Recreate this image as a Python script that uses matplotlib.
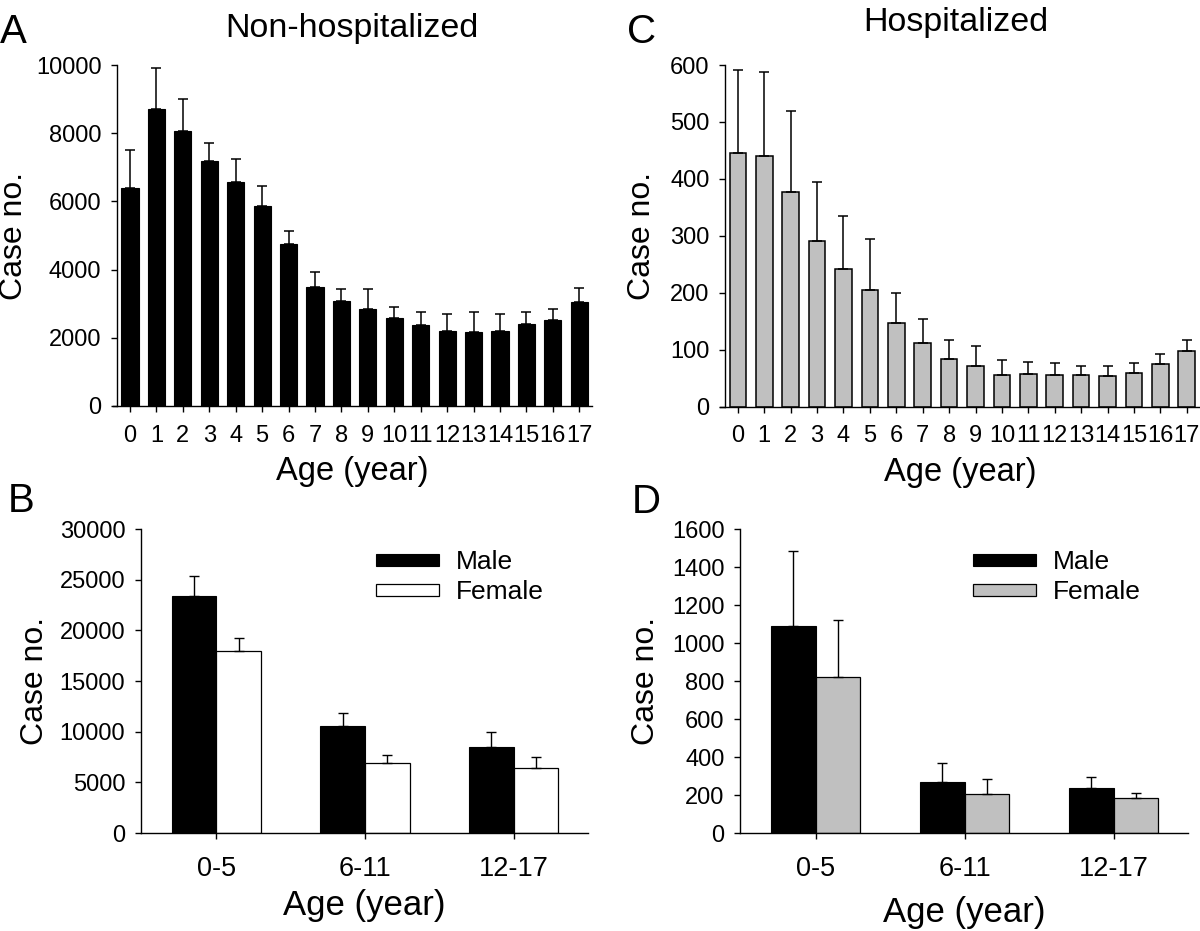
import matplotlib
matplotlib.use("Agg")
import matplotlib.pyplot as plt
import numpy as np

plt.rcParams['font.family'] = ['Liberation Sans', 'DejaVu Sans']

# ---------------- data ----------------
ages = [str(a) for a in range(18)]
nonhosp_mean = [6400, 8720, 8060, 7190, 6560, 5870, 4750, 3490, 3070, 2830,
                2570, 2370, 2210, 2160, 2200, 2410, 2515, 3040]
nonhosp_upper = [7500, 9910, 8990, 7700, 7230, 6450, 5120, 3940, 3420, 3420,
                 2910, 2770, 2710, 2750, 2700, 2770, 2830, 3450]
hosp_mean = [445, 440, 377, 291, 242, 204, 147, 111, 83, 72,
             56, 57, 56, 56, 53, 59, 75, 98]
hosp_upper = [591, 587, 520, 395, 334, 295, 200, 154, 117, 106,
              81, 78, 77, 72, 71, 77, 92, 116]

groups = ['0-5', '6-11', '12-17']
sexes = ['Male', 'Female']
nonhosp_male = [23400, 10550, 8480]
nonhosp_male_upper = [25370, 11830, 9920]
nonhosp_female = [17980, 6900, 6410]
nonhosp_female_upper = [19290, 7660, 7530]
hosp_male = [1088, 268, 237]
hosp_male_upper = [1484, 368, 296]
hosp_female = [820, 205, 186]
hosp_female_upper = [1123, 284, 210]

GRAY = '#c0c0c0'
W, H = 1200, 931
fig = plt.figure(figsize=(12, 9.31), dpi=100)


def px_axes(left, right, top, bottom):
    return fig.add_axes([left / W, 1 - bottom / H, (right - left) / W, (bottom - top) / H])


def style(ax, ytick_fs, xtick_fs, xpad, ypad):
    for s in ['top', 'right']:
        ax.spines[s].set_visible(False)
    for s in ['left', 'bottom']:
        ax.spines[s].set_linewidth(1.0)
    ax.tick_params(axis='y', direction='out', length=4, width=1, labelsize=ytick_fs, pad=ypad)
    ax.tick_params(axis='x', direction='out', length=4.5, width=1, labelsize=xtick_fs, pad=xpad)


# ---------------- Panel A ----------------
axA = px_axes(113, 592, 65, 406)
x = np.arange(len(ages))
axA.bar(x, nonhosp_mean, width=0.65, color='black', edgecolor='black', linewidth=0.8, zorder=2)
axA.errorbar(x, nonhosp_mean, yerr=[np.zeros(len(x)), np.array(nonhosp_upper) - np.array(nonhosp_mean)],
             fmt='none', ecolor='black', elinewidth=1.1, capsize=3.5, capthick=1.1, zorder=3)
axA.set_xlim(-0.64, 17.48)
axA.set_ylim(0, 10000)
axA.spines['left'].set_position(('data', -0.5))
axA.set_xticks(x)
axA.set_xticklabels(ages)
axA.set_yticks(range(0, 10001, 2000))
style(axA, 17, 17, 9, 7)
axA.set_ylabel('Case no.', fontsize=23)
axA.yaxis.set_label_coords(-0.176, 0.5)
axA.set_xlabel('Age (year)', fontsize=23.5)
axA.xaxis.set_label_coords(0.5, -0.148)

# ---------------- Panel C ----------------
axC = px_axes(720.4, 1200, 65, 406.5)
axC.bar(x, hosp_mean, width=0.63, color=GRAY, edgecolor='black', linewidth=1.1, zorder=2)
axC.errorbar(x, hosp_mean, yerr=[np.zeros(len(x)), np.array(hosp_upper) - np.array(hosp_mean)],
             fmt='none', ecolor='black', elinewidth=1.1, capsize=3.5, capthick=1.1, zorder=3)
axC.set_xlim(-0.66, 17.5)
axC.set_ylim(0, 600)
axC.spines['left'].set_position(('data', -0.49))
axC.set_xticks(x)
axC.set_xticklabels(ages)
axC.set_yticks(range(0, 601, 100))
style(axC, 17, 17, 9, 7)
axC.set_ylabel('Case no.', fontsize=23)
axC.yaxis.set_label_coords(-0.132, 0.5)
axC.set_xlabel('Age (year)', fontsize=23.5)
axC.xaxis.set_label_coords(0.5, -0.148)


# ---------------- Panels B & D ----------------
def grouped(ax, male, male_up, female, female_up, fcolor, ymax, ystep, leg_x):
    g = np.arange(len(groups))
    bw = 0.30
    bm = ax.bar(g - bw / 2, male, width=bw, color='black', edgecolor='black', linewidth=0.8,
                label=sexes[0], zorder=2)
    bf = ax.bar(g + bw / 2, female, width=bw, color=fcolor, edgecolor='black', linewidth=0.9,
                label=sexes[1], zorder=2)
    ax.errorbar(g - bw / 2, male, yerr=[np.zeros(3), np.array(male_up) - np.array(male)],
                fmt='none', ecolor='black', elinewidth=1.0, capsize=3.3, capthick=1.0, zorder=3)
    ax.errorbar(g + bw / 2, female, yerr=[np.zeros(3), np.array(female_up) - np.array(female)],
                fmt='none', ecolor='black', elinewidth=1.0, capsize=3.3, capthick=1.0, zorder=3)
    ax.set_xlim(-0.51, 2.5)
    ax.set_ylim(0, ymax)
    ax.set_xticks(g)
    ax.set_xticklabels(groups)
    ax.set_yticks(np.arange(0, ymax + 1, ystep))
    style(ax, 17, 19.5, 12, 7)
    ax.set_xlabel('Age (year)', fontsize=25)
    ax.set_ylabel('Case no.', fontsize=23)
    ax.legend(handles=[bm, bf], labels=sexes, loc='upper left', bbox_to_anchor=(leg_x, 0.93),
              frameon=False, fontsize=19, handlelength=2.4, handleheight=0.32,
              handletextpad=0.62, labelspacing=0.22, borderpad=0, borderaxespad=0)


axB = px_axes(140.6, 588, 529, 833)
grouped(axB, nonhosp_male, nonhosp_male_upper, nonhosp_female, nonhosp_female_upper,
        'white', 30000, 5000, 0.526)
axB.yaxis.set_label_coords(-0.2025, 0.5)
axB.xaxis.set_label_coords(0.5, -0.184)

axD = px_axes(739.7, 1188, 529, 833.3)
grouped(axD, hosp_male, hosp_male_upper, hosp_female, hosp_female_upper,
        GRAY, 1600, 200, 0.520)
axD.yaxis.set_label_coords(-0.1755, 0.5)
axD.xaxis.set_label_coords(0.5, -0.205)

# ---------------- titles and panel letters ----------------
fig.text(352 / W, 1 - 37 / H, 'Non-hospitalized', fontsize=24.5, ha='center', va='baseline')
fig.text(956 / W, 1 - 31.5 / H, 'Hospitalized', fontsize=24.5, ha='center', va='baseline')
for letter, lx, ly in [('A', 0, 43), ('C', 627, 43), ('B', 8, 512), ('D', 632, 513)]:
    fig.text(lx / W, 1 - ly / H, letter, fontsize=29, ha='left', va='baseline')

fig.savefig('out.png', dpi=100)
